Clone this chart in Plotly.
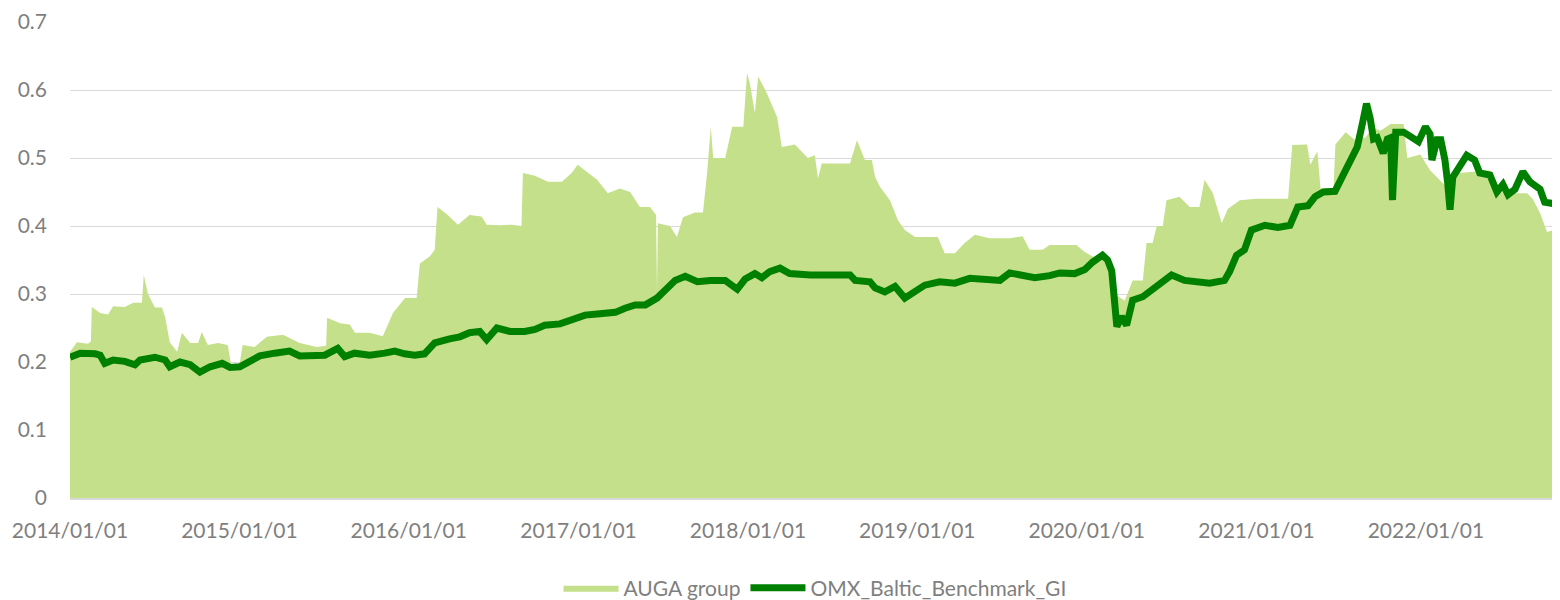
import plotly.graph_objects as go

# AUGA group (area)
auga_dates = [
    "2014-01-01", "2014-01-16", "2014-02-09", "2014-02-15", "2014-02-17", "2014-03-07", "2014-03-24",
    "2014-04-04", "2014-04-29", "2014-05-17", "2014-06-05", "2014-06-09", "2014-06-18", "2014-07-03",
    "2014-07-18", "2014-07-25", "2014-08-04", "2014-08-20", "2014-08-30", "2014-09-17", "2014-10-04",
    "2014-10-12", "2014-10-25", "2014-11-16", "2014-12-07", "2014-12-14", "2015-01-01", "2015-01-08",
    "2015-02-03", "2015-03-01", "2015-04-05", "2015-05-11", "2015-06-17", "2015-07-07", "2015-07-09",
    "2015-08-06", "2015-08-27", "2015-09-07", "2015-10-09", "2015-11-06", "2015-11-28", "2015-12-24",
    "2016-01-18", "2016-01-25", "2016-02-15", "2016-02-26", "2016-03-03", "2016-03-25", "2016-04-16",
    "2016-05-11", "2016-06-06", "2016-06-17", "2016-07-15", "2016-08-10", "2016-08-31", "2016-09-03",
    "2016-09-29", "2016-10-27", "2016-11-26", "2016-12-17", "2016-12-30", "2017-01-21", "2017-02-10",
    "2017-03-05", "2017-03-31", "2017-04-22", "2017-05-13", "2017-06-04", "2017-06-17", "2017-06-19",
    "2017-06-21", "2017-07-17", "2017-08-01", "2017-08-14", "2017-09-09", "2017-09-26", "2017-10-05",
    "2017-10-13", "2017-10-18", "2017-11-13", "2017-11-28", "2017-12-22", "2017-12-30", "2018-01-05",
    "2018-01-16", "2018-01-23", "2018-02-11", "2018-03-05", "2018-03-15", "2018-04-12", "2018-05-10",
    "2018-05-25", "2018-06-01", "2018-06-09", "2018-08-09", "2018-08-24", "2018-09-10", "2018-09-25",
    "2018-10-02", "2018-10-13", "2018-11-03", "2018-11-20", "2018-12-05", "2018-12-27", "2019-01-17",
    "2019-02-14", "2019-03-01", "2019-03-23", "2019-04-13", "2019-05-05", "2019-06-06", "2019-07-19",
    "2019-08-16", "2019-08-31", "2019-09-28", "2019-10-13", "2019-12-10", "2019-12-27", "2020-01-14",
    "2020-02-04", "2020-02-15", "2020-03-01", "2020-03-23", "2020-04-09", "2020-05-01", "2020-05-09",
    "2020-05-22", "2020-05-31", "2020-06-13", "2020-06-21", "2020-07-19", "2020-08-10", "2020-08-31",
    "2020-09-11", "2020-09-29", "2020-10-18", "2020-10-31", "2020-11-26", "2021-01-01", "2021-01-30",
    "2021-03-10", "2021-03-19", "2021-04-20", "2021-04-27", "2021-05-12", "2021-05-19", "2021-06-16",
    "2021-06-20", "2021-07-12", "2021-08-02", "2021-08-24", "2021-09-08", "2021-09-25", "2021-10-17",
    "2021-11-14", "2021-11-22", "2021-12-20", "2022-01-10", "2022-02-15", "2022-03-15", "2022-04-16",
    "2022-05-19", "2022-06-16", "2022-08-07", "2022-08-19", "2022-09-04", "2022-09-19", "2022-10-17",
]
auga_values = [
    0.215, 0.229, 0.227, 0.230, 0.281, 0.272, 0.270,
    0.282, 0.281, 0.287, 0.287, 0.328, 0.300, 0.280,
    0.280, 0.266, 0.229, 0.215, 0.243, 0.228, 0.228,
    0.244, 0.225, 0.228, 0.225, 0.197, 0.195, 0.225,
    0.222, 0.237, 0.240, 0.228, 0.222, 0.224, 0.265,
    0.257, 0.255, 0.243, 0.243, 0.238, 0.272, 0.294,
    0.294, 0.345, 0.355, 0.365, 0.428, 0.416, 0.402,
    0.416, 0.414, 0.402, 0.401, 0.402, 0.400, 0.478,
    0.474, 0.465, 0.465, 0.478, 0.490, 0.478, 0.468,
    0.448, 0.455, 0.450, 0.428, 0.428, 0.416, 0.306,
    0.404, 0.400, 0.384, 0.413, 0.420, 0.420, 0.478,
    0.546, 0.500, 0.500, 0.546, 0.546, 0.625, 0.610,
    0.566, 0.620, 0.595, 0.560, 0.516, 0.520, 0.500,
    0.504, 0.470, 0.492, 0.492, 0.526, 0.497, 0.497,
    0.472, 0.457, 0.438, 0.409, 0.394, 0.384, 0.384,
    0.384, 0.360, 0.360, 0.375, 0.387, 0.382, 0.382,
    0.385, 0.365, 0.365, 0.372, 0.372, 0.362, 0.355,
    0.353, 0.340, 0.300, 0.290, 0.320, 0.320, 0.375,
    0.375, 0.400, 0.400, 0.438, 0.443, 0.428, 0.428,
    0.468, 0.448, 0.404, 0.425, 0.438, 0.440, 0.440,
    0.440, 0.519, 0.520, 0.490, 0.510, 0.455, 0.455,
    0.520, 0.538, 0.526, 0.530, 0.545, 0.540, 0.550,
    0.550, 0.500, 0.505, 0.482, 0.457, 0.478, 0.480,
    0.482, 0.448, 0.448, 0.440, 0.419, 0.391, 0.397,
]

# OMX_Baltic_Benchmark_GI (line)
omx_dates = [
    "2014-01-01", "2014-01-23", "2014-02-24", "2014-03-07", "2014-03-17", "2014-04-04", "2014-04-29",
    "2014-05-21", "2014-06-01", "2014-07-03", "2014-07-25", "2014-08-04", "2014-08-26", "2014-09-17",
    "2014-10-08", "2014-10-30", "2014-11-25", "2014-12-12", "2015-01-02", "2015-01-23", "2015-02-14",
    "2015-03-18", "2015-04-19", "2015-05-11", "2015-06-12", "2015-07-04", "2015-08-01", "2015-08-16",
    "2015-09-06", "2015-10-09", "2015-11-10", "2015-12-02", "2015-12-23", "2016-01-14", "2016-02-04",
    "2016-02-26", "2016-03-29", "2016-04-20", "2016-05-11", "2016-06-02", "2016-06-17", "2016-07-09",
    "2016-08-06", "2016-09-07", "2016-09-29", "2016-10-20", "2016-11-22", "2016-12-24", "2017-01-15",
    "2017-02-16", "2017-03-21", "2017-04-11", "2017-05-03", "2017-05-25", "2017-06-19", "2017-07-07",
    "2017-07-28", "2017-08-19", "2017-09-14", "2017-10-12", "2017-11-13", "2017-12-09", "2017-12-26",
    "2018-01-16", "2018-01-31", "2018-02-17", "2018-03-11", "2018-04-01", "2018-05-15", "2018-08-09",
    "2018-08-20", "2018-09-21", "2018-10-02", "2018-10-23", "2018-11-14", "2018-12-05", "2018-12-20",
    "2019-01-17", "2019-02-18", "2019-03-23", "2019-04-24", "2019-05-26", "2019-06-28", "2019-07-19",
    "2019-08-21", "2019-09-11", "2019-10-13", "2019-11-04", "2019-12-06", "2019-12-28", "2020-01-14",
    "2020-02-04", "2020-02-15", "2020-02-24", "2020-03-06", "2020-03-16", "2020-03-27", "2020-04-09",
    "2020-05-01", "2020-05-22", "2020-06-13", "2020-07-02", "2020-07-30", "2020-09-01", "2020-09-22",
    "2020-10-24", "2020-11-04", "2020-11-19", "2020-12-06", "2020-12-21", "2021-01-19", "2021-02-16",
    "2021-03-14", "2021-03-31", "2021-04-22", "2021-05-07", "2021-05-25", "2021-06-19", "2021-07-04",
    "2021-07-22", "2021-08-06", "2021-08-17", "2021-08-26", "2021-09-03", "2021-09-10", "2021-09-18",
    "2021-10-01", "2021-10-10", "2021-10-17", "2021-10-21", "2021-10-28", "2021-11-14", "2021-12-03",
    "2021-12-16", "2021-12-31", "2022-01-10", "2022-01-14", "2022-01-25", "2022-02-02", "2022-02-11",
    "2022-02-17", "2022-02-22", "2022-02-28", "2022-03-15", "2022-03-30", "2022-04-16", "2022-04-27",
    "2022-05-19", "2022-06-03", "2022-06-16", "2022-06-27", "2022-07-12", "2022-07-29", "2022-08-13",
    "2022-09-04", "2022-09-14", "2022-10-02", "2022-10-10", "2022-10-17",
]
omx_values = [
    0.207, 0.213, 0.212, 0.210, 0.198, 0.203, 0.201,
    0.196, 0.203, 0.207, 0.203, 0.193, 0.200, 0.196,
    0.185, 0.193, 0.198, 0.192, 0.193, 0.200, 0.209,
    0.213, 0.216, 0.209, 0.209, 0.210, 0.220, 0.208,
    0.213, 0.210, 0.213, 0.216, 0.212, 0.210, 0.212,
    0.228, 0.234, 0.237, 0.243, 0.245, 0.233, 0.250,
    0.245, 0.245, 0.248, 0.254, 0.256, 0.264, 0.269,
    0.271, 0.273, 0.279, 0.284, 0.284, 0.294, 0.306,
    0.320, 0.326, 0.318, 0.320, 0.320, 0.307, 0.322,
    0.330, 0.324, 0.333, 0.338, 0.330, 0.328, 0.328,
    0.320, 0.318, 0.309, 0.303, 0.311, 0.294, 0.300,
    0.313, 0.318, 0.316, 0.323, 0.321, 0.320, 0.331,
    0.328, 0.324, 0.327, 0.331, 0.330, 0.336, 0.347,
    0.357, 0.350, 0.334, 0.252, 0.267, 0.254, 0.291,
    0.296, 0.306, 0.318, 0.328, 0.320, 0.318, 0.316,
    0.320, 0.333, 0.357, 0.365, 0.394, 0.401, 0.398,
    0.401, 0.428, 0.430, 0.443, 0.450, 0.451, 0.470,
    0.497, 0.516, 0.550, 0.580, 0.558, 0.528, 0.530,
    0.507, 0.528, 0.530, 0.438, 0.538, 0.538, 0.529,
    0.524, 0.546, 0.535, 0.497, 0.527, 0.527, 0.497,
    0.463, 0.424, 0.472, 0.487, 0.504, 0.497, 0.478,
    0.475, 0.450, 0.461, 0.446, 0.454, 0.480, 0.465,
    0.454, 0.435, 0.433, 0.428, 0.450,
]

year_ticks = ["2014-01-01", "2015-01-01", "2016-01-01", "2017-01-01", "2018-01-01",
              "2019-01-01", "2020-01-01", "2021-01-01", "2022-01-01"]
y_ticks = [0, 0.1, 0.2, 0.3, 0.4, 0.5, 0.6, 0.7]
y_tick_text = ["0", "0.1", "0.2", "0.3", "0.4", "0.5", "0.6", "0.7"]

FONT = "Lato"
TXT = "#7F7F7F"

fig = go.Figure()
fig.add_trace(go.Scatter(
    x=auga_dates, y=auga_values, name="AUGA group", mode="lines",
    fill="tozeroy", fillcolor="#C5E08A", line=dict(width=0, color="#C5E08A"),
))
fig.add_trace(go.Scatter(
    x=omx_dates, y=omx_values, name="OMX_Baltic_Benchmark_GI", mode="lines",
    line=dict(width=7, color="#008000"),
))

fig.update_layout(
    width=1552, height=592,
    margin=dict(l=62, r=0, t=14, b=102, autoexpand=False),
    plot_bgcolor="white", paper_bgcolor="white",
    font=dict(family=FONT, size=21, color=TXT),
    showlegend=True,
    legend=dict(orientation="h", x=0.5, xanchor="center", y=0.02, yref="container",
                yanchor="middle", font=dict(family=FONT, size=21, color=TXT),
                itemwidth=55, traceorder="normal"),
    xaxis=dict(
        type="date", range=["2014-01-01", "2022-10-17"],
        tickvals=year_ticks, tickformat="%Y/%m/%d",
        showgrid=False, showline=True, linecolor="#D9D9D9", linewidth=2,
        ticks="", ticklabelstandoff=13, automargin=False,
        tickfont=dict(family=FONT, size=21, color=TXT),
    ),
    yaxis=dict(
        range=[0, 0.7], tickvals=y_ticks, ticktext=y_tick_text,
        showgrid=True, gridcolor="#D9D9D9", gridwidth=1,
        zeroline=False, showline=False, ticks="", ticklabelstandoff=22,
        automargin=False, tickfont=dict(family=FONT, size=21, color=TXT),
    ),
)

fig.write_html("out.html")
